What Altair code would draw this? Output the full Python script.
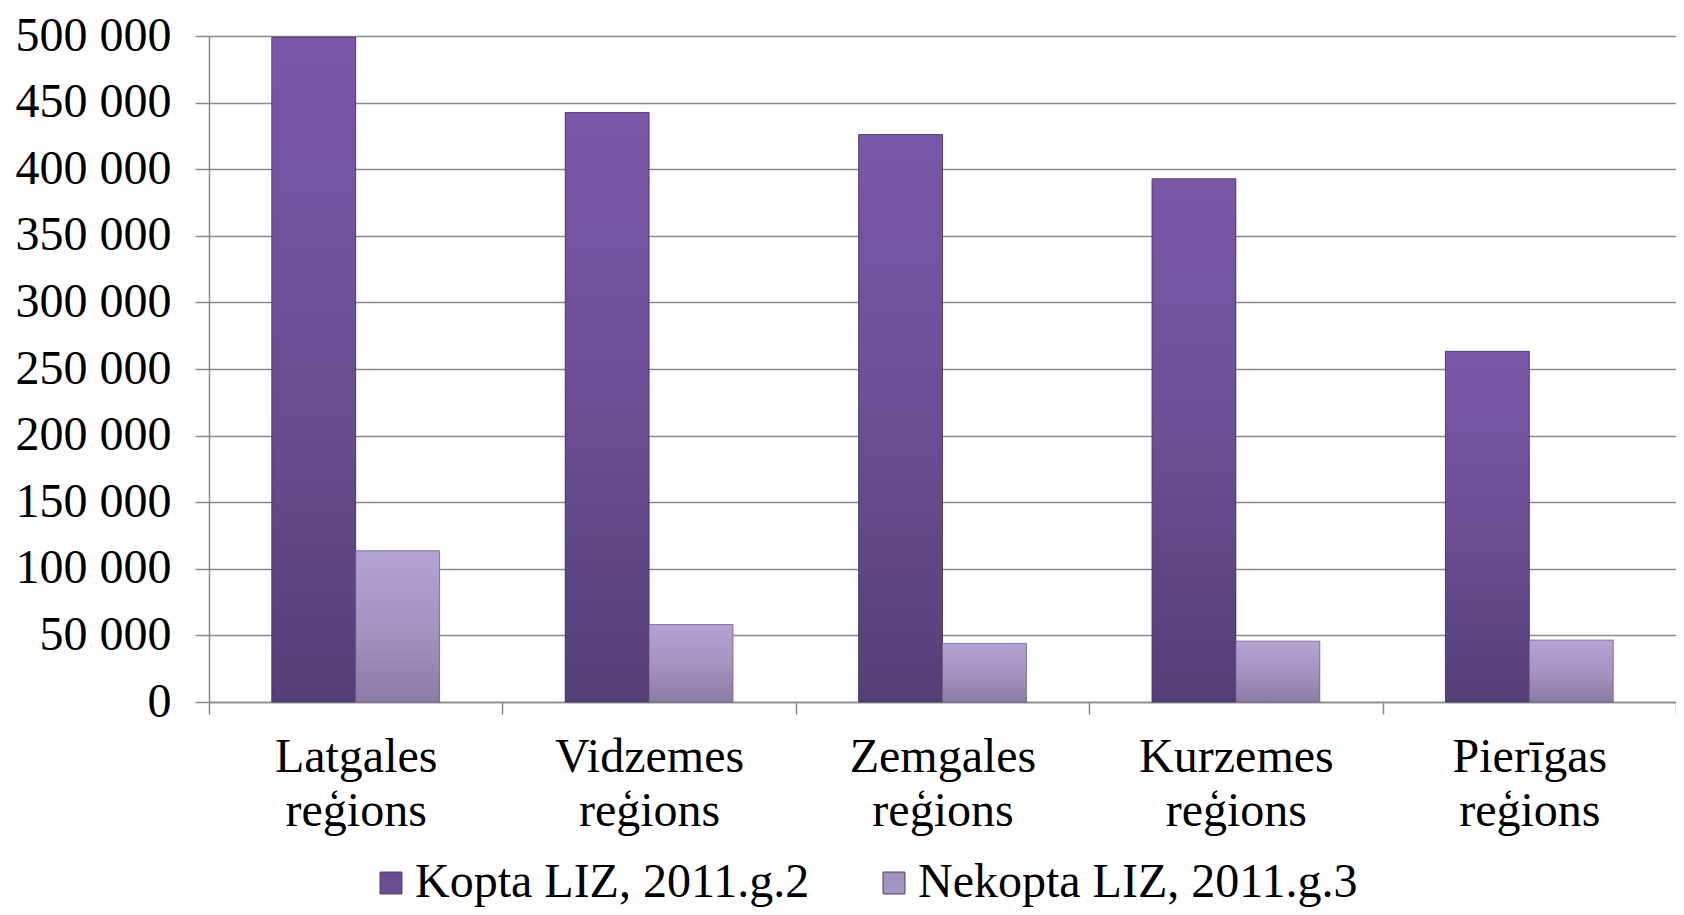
import altair as alt
import pandas as pd

regions = ["Latgales reģions", "Vidzemes reģions", "Zemgales reģions", "Kurzemes reģions", "Pierīgas reģions"]
series = ["Kopta LIZ, 2011.g.2", "Nekopta LIZ, 2011.g.3"]
kopta = [499000, 442500, 426000, 392800, 263300]
nekopta = [113500, 58200, 44000, 45700, 46500]
y_ticks = [0, 50000, 100000, 150000, 200000, 250000, 300000, 350000, 400000, 450000, 500000]

rows = []
for r, k, n in zip(regions, kopta, nekopta):
    rows.append({"region": r, "series": series[0], "value": k})
    rows.append({"region": r, "series": series[1], "value": n})
df = pd.DataFrame(rows)

FONT = "Liberation Serif"
GRAY = "#8a8a8a"

grad_k = alt.Gradient(gradient="linear", x1=0, y1=0, x2=0, y2=1,
                      stops=[alt.GradientStop(color="#7a57a8", offset=0),
                             alt.GradientStop(color="#6c4e95", offset=0.5),
                             alt.GradientStop(color="#553e78", offset=1)])
grad_n = alt.Gradient(gradient="linear", x1=0, y1=0, x2=0, y2=1,
                      stops=[alt.GradientStop(color="#b3a3d4", offset=0),
                             alt.GradientStop(color="#a594c0", offset=0.5),
                             alt.GradientStop(color="#8a7ca3", offset=1)])

base = alt.Chart(df).encode(
    x=alt.X("region:N", sort=regions, title=None,
            scale=alt.Scale(paddingInner=0, paddingOuter=0),
            axis=alt.Axis(labelExpr="split(datum.label, ' ')", labelAngle=0,
                          labelFont=FONT, labelFontSize=48, labelColor="black",
                          labelLineHeight=54, labelPadding=19, labelLimit=0,
                          tickBand="extent", tickSize=12, tickColor=GRAY, tickWidth=1.5,
                          domainColor=GRAY, domainWidth=1.5, grid=False)),
    xOffset=alt.XOffset("series:N", sort=series,
                        scale=alt.Scale(paddingInner=0, paddingOuter=0.748)),
    y=alt.Y("value:Q", title=None,
            scale=alt.Scale(domain=[0, 500000], nice=False),
            axis=alt.Axis(values=y_ticks,
                          labelExpr="replace(format(datum.value, ',d'), ',', ' ')",
                          labelFont=FONT, labelFontSize=48, labelColor="black",
                          labelPadding=24, labelLimit=0, tickSize=14, tickColor=GRAY, tickWidth=1.5,
                          domainColor=GRAY, domainWidth=1.5,
                          grid=True, gridColor=GRAY, gridWidth=1.5)),
)

legend_layer = base.mark_bar().encode(
    color=alt.Color("series:N", sort=series,
                    scale=alt.Scale(domain=series, range=["#6a4c92", "#a494c0"]),
                    legend=alt.Legend(title=None, orient="none", direction="horizontal",
                                      legendX=158, legendY=823,
                                      labelFont=FONT, labelFontSize=48, labelColor="black",
                                      labelLimit=0,
                                      symbolType="square", symbolSize=480,
                                      symbolStrokeColor="#4a3a66", symbolStrokeWidth=1,
                                      labelOffset=0, columnPadding=60))
)

k_layer = base.mark_bar(fill=grad_k, stroke="#3e2d58", strokeWidth=1, strokeOpacity=0.7).transform_filter(
    alt.datum.series == series[0])
n_layer = base.mark_bar(fill=grad_n, stroke="#6a5d80", strokeWidth=1, strokeOpacity=0.7).transform_filter(
    alt.datum.series == series[1])

chart = alt.layer(legend_layer, k_layer, n_layer).properties(
    width=1467, height=666,
    autosize=alt.AutoSizeParams(type="none"),
    padding={"left": 201, "top": 28, "right": 0, "bottom": 205},
).configure_view(stroke=None)

chart.save("out.html", embed_options={"renderer": "svg", "actions": False})
